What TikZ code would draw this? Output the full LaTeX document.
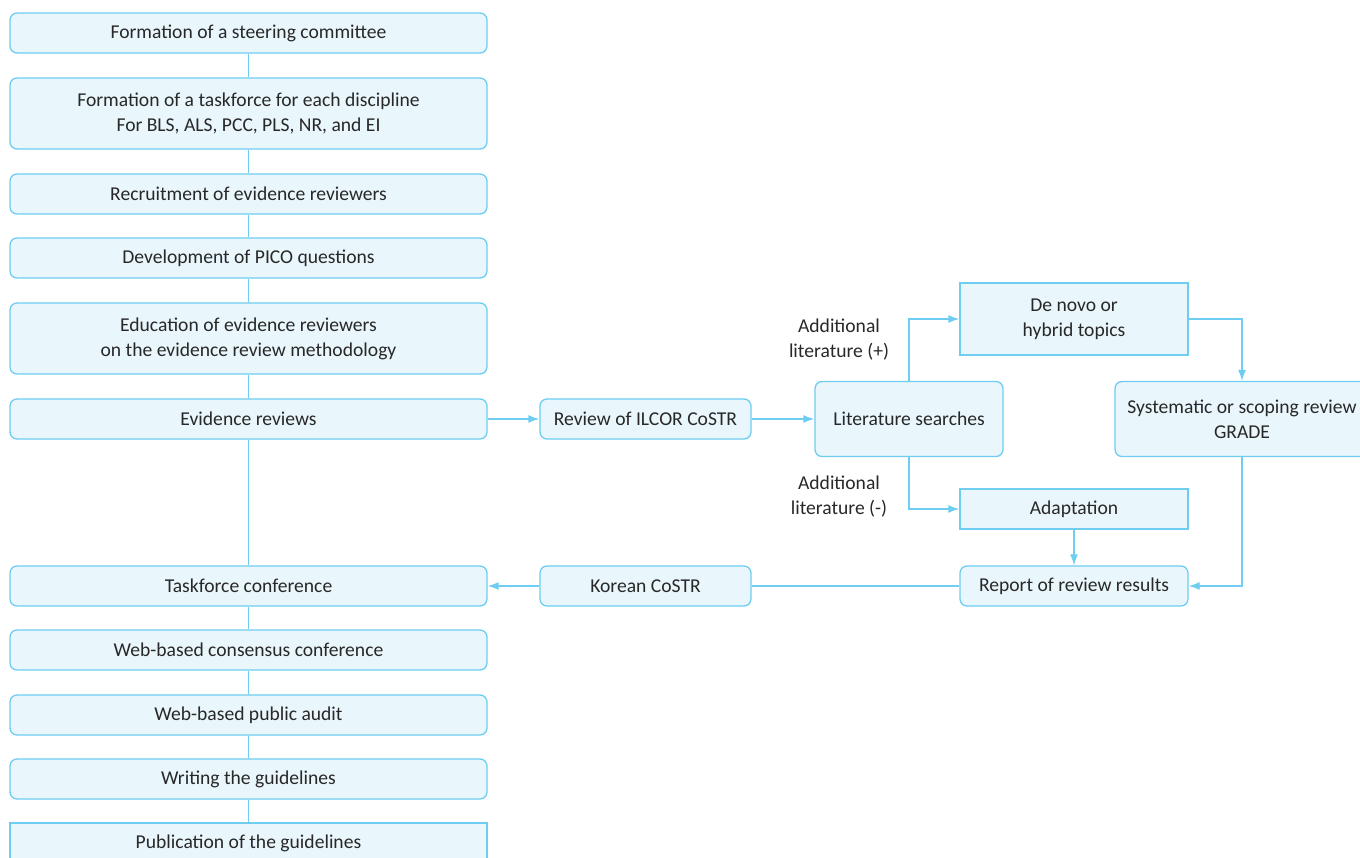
\documentclass[tikz,border=0pt]{standalone}
\usepackage{fontspec}
\setmainfont{Carlito}
\usetikzlibrary{arrows.meta}
\definecolor{lineblue}{RGB}{110,205,240}
\definecolor{fillblue}{RGB}{233,246,252}
\definecolor{textgray}{RGB}{40,40,40}
\begin{document}
\begin{tikzpicture}[x=1pt,y=-1pt,
    box/.style={draw=lineblue,fill=fillblue,line width=1.3pt,text=textgray,
      align=center,inner sep=0pt,font=\fontsize{19.6}{25}\selectfont},
    rbox/.style={box,rounded corners=7pt},
    label/.style={text=textgray,align=center,font=\fontsize{19.6}{25}\selectfont},
    link/.style={draw=lineblue,line width=1.3pt},
    arr/.style={link,-{Latex[length=11pt,width=8pt]}}]
    \useasboundingbox (0,0) rectangle (1360,858);

    % main column
    \node[rbox,minimum width=477pt,minimum height=40pt] (steer) at (248.5,33) {Formation of a steering committee};
    \node[rbox,minimum width=477pt,minimum height=71pt] (task) at (248.5,113.5) {Formation of a taskforce for each discipline\\For BLS, ALS, PCC, PLS, NR, and EI};
    \node[rbox,minimum width=477pt,minimum height=40pt] (recruit) at (248.5,194) {Recruitment of evidence reviewers};
    \node[rbox,minimum width=477pt,minimum height=40pt] (pico) at (248.5,258) {Development of PICO questions};
    \node[rbox,minimum width=477pt,minimum height=71pt] (edu) at (248.5,338.5) {Education of evidence reviewers\\on the evidence review methodology};
    \node[rbox,minimum width=477pt,minimum height=40pt] (evid) at (248.5,419) {Evidence reviews};
    \node[rbox,minimum width=477pt,minimum height=40pt] (tconf) at (248.5,586) {Taskforce conference};
    \node[rbox,minimum width=477pt,minimum height=40pt] (cons) at (248.5,650) {Web-based consensus conference};
    \node[rbox,minimum width=477pt,minimum height=40pt] (audit) at (248.5,715) {Web-based public audit};
    \node[rbox,minimum width=477pt,minimum height=40pt] (write) at (248.5,779) {Writing the guidelines};
    \node[box,minimum width=477pt,minimum height=40pt] (pub) at (248.5,843) {Publication of the guidelines};

    % review branch
    \node[rbox,minimum width=211pt,minimum height=40pt] (ilcor) at (645.5,419) {Review of ILCOR CoSTR};
    \node[rbox,minimum width=188pt,minimum height=75pt] (lit) at (909,419) {Literature searches};
    \node[box,minimum width=228pt,minimum height=72pt] (denovo) at (1074,319) {De novo or\\hybrid topics};
    \node[rbox,minimum width=254pt,minimum height=75pt] (sys) at (1242,419) {Systematic or scoping review\\GRADE};
    \node[box,minimum width=228pt,minimum height=40pt] (adapt) at (1074,509) {Adaptation};
    \node[rbox,minimum width=228pt,minimum height=40pt] (report) at (1074,586) {Report of review results};
    \node[rbox,minimum width=211pt,minimum height=40pt] (korean) at (645.5,586) {Korean CoSTR};
    \node[label] (plus) at (839,340) {Additional\\literature (+)};
    \node[label] (minus) at (839,497) {Additional\\literature (-)};

    \draw[link] (steer) -- (task);
    \draw[link] (task) -- (recruit);
    \draw[link] (recruit) -- (pico);
    \draw[link] (pico) -- (edu);
    \draw[link] (edu) -- (evid);
    \draw[link] (evid) -- (tconf);
    \draw[link] (tconf) -- (cons);
    \draw[link] (cons) -- (audit);
    \draw[link] (audit) -- (write);
    \draw[link] (write) -- (pub);

    \draw[arr] (evid) -- (ilcor);
    \draw[arr] (ilcor) -- (lit);
    \draw[arr] (lit.north) |- (denovo.west);
    \draw[arr] (denovo.east) -| (sys.north);
    \draw[arr] (sys.south) |- (report.east);
    \draw[arr] (lit.south) |- (adapt.west);
    \draw[arr] (adapt) -- (report);
    \draw[link] (report) -- (korean);
    \draw[arr] (korean) -- (tconf);
\end{tikzpicture}
\end{document}
